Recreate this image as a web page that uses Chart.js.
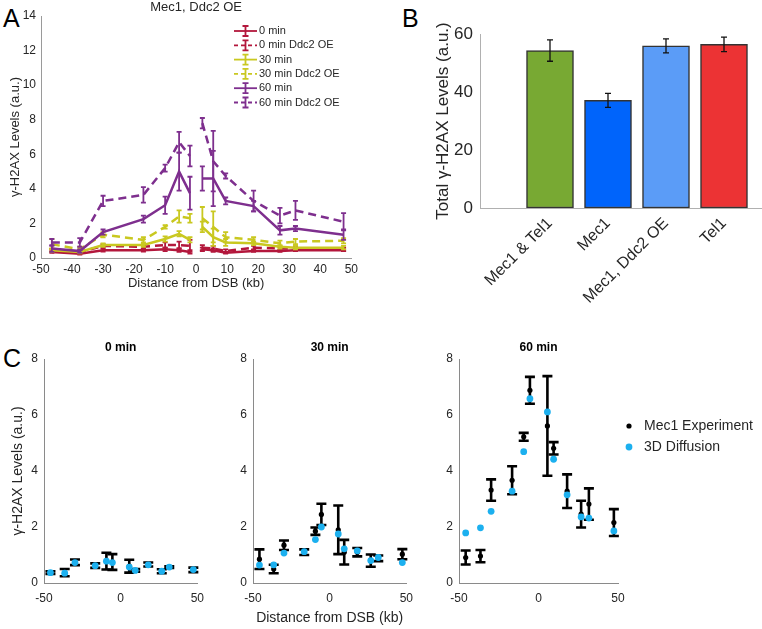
<!DOCTYPE html>
<html lang="en">
<head>
<meta charset="UTF-8">
<title>γ-H2AX spreading around a DSB</title>
<script src="https://cdn.jsdelivr.net/npm/chart.js@4"></script>
<style>
  body { margin: 0; width: 762px; height: 629px; overflow: hidden; background: #fff; position: relative;
         font-family: "Liberation Sans", Arial, sans-serif; }
  canvas { position: absolute; }
  .letter { position: absolute; font-size: 25px; line-height: 1; color: #000; }
</style>
</head>
<body>
<div class="letter" style="left:3px;top:6px">A</div>
<div class="letter" style="left:402px;top:6px">B</div>
<div class="letter" style="left:3px;top:346px">C</div>

<canvas id="chartA" width="362" height="300" style="left:0;top:0"></canvas>
<canvas id="chartB" width="380" height="320" style="left:400px;top:0"></canvas>
<canvas id="chartC0" width="212" height="299" style="left:0;top:330px"></canvas>
<canvas id="chartC30" width="212" height="299" style="left:209px;top:330px"></canvas>
<canvas id="chartC60" width="347" height="299" style="left:415px;top:330px"></canvas>

<script>
// ---- panel A: gamma-H2AX profiles (Mec1 vs Mec1 + Ddc2 OE)
const distA = [-46.5, -37.5, -30, -17, -10, -5.5, -2, 2, 5.5, 9.5, 18.5, 27, 32, 47.5];
const min0 = [0.35, 0.25, 0.45, 0.45, 0.5, 0.45, 0.35, 0.5, 0.45, 0.3, 0.4, 0.4, 0.45, 0.45];
const min0Err = [0.05, 0.05, 0.08, 0.08, 0.1, 0.1, 0.1, 0.1, 0.1, 0.05, 0.05, 0.05, 0.05, 0.05];
const min0OE = [0.45, 0.35, 0.7, 0.65, 0.75, 0.75, 0.7, 0.6, 0.55, 0.4, 0.6, 0.55, 0.55, 0.5];
const min0OEErr = [0.08, 0.08, 0.1, 0.1, 0.15, 0.2, 0.35, 0.15, 0.15, 0.1, 0.1, 0.1, 0.1, 0.1];
const min30 = [0.45, 0.35, 0.75, 0.75, 1.1, 1.4, 1.05, 1.8, 1.2, 0.9, 0.85, 0.65, 0.6, 0.6];
const min30Err = [0.1, 0.08, 0.1, 0.1, 0.15, 0.15, 0.15, 0.3, 0.5, 0.2, 0.1, 0.1, 0.1, 0.1];
const min30OE = [0.8, 0.5, 1.35, 1.05, 1.8, 2.4, 2.3, 2.3, 1.8, 1.2, 1.05, 0.85, 0.95, 1.0];
const min30OEErr = [0.3, 0.15, 0.15, 0.15, 0.1, 0.35, 0.25, 0.65, 0.9, 0.3, 0.15, 0.15, 0.15, 0.15];
const min60 = [0.55, 0.4, 1.5, 2.25, 3.05, 5.0, 3.75, 4.6, 4.6, 3.3, 3.0, 1.6, 1.7, 1.35];
const min60Err = [0.2, 0.1, 0.15, 0.2, 0.5, 1.1, 0.95, 0.7, 1.6, 0.2, 0.3, 0.25, 0.15, 0.3];
const min60OE = [0.9, 0.9, 3.3, 3.65, 5.2, 6.7, 5.9, 7.8, 5.6, 4.75, 3.3, 2.45, 2.75, 2.1];
const min60OEErr = [0.2, 0.25, 0.3, 0.45, 0.2, 0.6, 0.6, 0.3, 1.75, 0.15, 0.6, 0.45, 0.55, 0.5];

// ---- panel B: total levels per strain
const strains = ['Mec1 & Tel1', 'Mec1', 'Mec1, Ddc2 OE', 'Tel1'];
const totals = [54.3, 37.1, 55.9, 56.4];
const totalsErr = [3.7, 2.4, 2.4, 2.5];
const strainColors = ['#78a933', '#0064fb', '#5b9cf7', '#ec3334'];

// ---- panel C: experiment vs 3D diffusion model
const distC = [-45.8, -36.5, -29.8, -16.6, -9.3, -5.4, 5.6, 9.5, 18, 26.8, 31.7, 47.4];
const exp0 = [0.37, 0.37, 0.74, 0.62, 0.78, 0.75, 0.6, 0.45, 0.66, 0.42, 0.57, 0.47];
const exp0Err = [0.05, 0.13, 0.1, 0.08, 0.3, 0.28, 0.23, 0.05, 0.07, 0.07, 0.03, 0.08];
const sim0 = [0.37, 0.35, 0.73, 0.62, 0.78, 0.73, 0.57, 0.45, 0.65, 0.42, 0.57, 0.48];
const exp30 = [0.85, 0.5, 1.35, 1.1, 1.85, 2.45, 1.9, 1.1, 1.1, 0.8, 0.88, 1.03];
const exp30Err = [0.35, 0.15, 0.17, 0.1, 0.13, 0.38, 0.87, 0.44, 0.15, 0.22, 0.1, 0.18];
const sim30 = [0.64, 0.65, 1.07, 1.12, 1.55, 2.0, 1.75, 1.22, 1.15, 0.8, 0.91, 0.73];
const exp60 = [0.91, 0.96, 3.32, 3.67, 5.22, 6.88, 5.61, 4.81, 3.28, 2.46, 2.82, 2.16];
const exp60Err = [0.25, 0.22, 0.38, 0.5, 0.14, 0.48, 1.78, 0.22, 0.6, 0.48, 0.56, 0.48];
const sim60 = [1.79, 1.97, 2.56, 3.28, 4.69, 6.58, 6.11, 4.42, 3.15, 2.36, 2.32, 1.86];

const FONT = '"Liberation Sans", Arial, sans-serif';
const TEXT = '#262626';
Chart.defaults.font.family = FONT;
Chart.defaults.color = TEXT;

const pts = (xs, ys) => xs.map((x, i) => ({ x: x, y: ys[i] }));

// vertical error bars, drawn right after their own dataset
const errorBars = {
  id: 'errorBars',
  afterDatasetDraw(chart, args) {
    const ds = chart.data.datasets[args.index];
    if (!ds.yErr) return;
    const ctx = chart.ctx, ys = chart.scales.y;
    const cap = ds.errCap || 3;
    ctx.save();
    ctx.strokeStyle = ds.errColor || ds.borderColor;
    ctx.lineWidth = ds.errWidth || 1.5;
    ctx.setLineDash([]);
    args.meta.data.forEach((el, i) => {
      const v = ds.data[i].y, e = ds.yErr[i];
      const top = ys.getPixelForValue(v + e), bot = ys.getPixelForValue(v - e);
      ctx.beginPath();
      ctx.moveTo(el.x, top); ctx.lineTo(el.x, bot);
      ctx.moveTo(el.x - cap, top); ctx.lineTo(el.x + cap, top);
      ctx.moveTo(el.x - cap, bot); ctx.lineTo(el.x + cap, bot);
      ctx.stroke();
    });
    ctx.restore();
  }
};

// small legend placed freely on the canvas
const sideLegend = {
  id: 'sideLegend',
  afterDraw(chart, args, o) {
    if (!o || !o.show) return;
    const ctx = chart.ctx;
    ctx.save();
    ctx.font = o.size + 'px ' + FONT;
    ctx.textBaseline = 'middle';
    chart.data.datasets.forEach((ds, i) => {
      const y = o.y + i * o.step;
      if (o.kind === 'line') {
        const cx = o.x + o.len / 2;
        ctx.strokeStyle = ds.borderColor;
        ctx.lineWidth = 1.8;
        ctx.setLineDash(ds.borderDash ? [4, 3] : []);
        ctx.beginPath(); ctx.moveTo(o.x, y); ctx.lineTo(o.x + o.len, y); ctx.stroke();
        ctx.setLineDash([]);
        ctx.beginPath();
        ctx.moveTo(cx, y - 5); ctx.lineTo(cx, y + 5);
        ctx.moveTo(cx - 3, y - 5); ctx.lineTo(cx + 3, y - 5);
        ctx.moveTo(cx - 3, y + 5); ctx.lineTo(cx + 3, y + 5);
        ctx.stroke();
      } else {
        ctx.fillStyle = ds.backgroundColor;
        ctx.beginPath(); ctx.arc(o.x, y, ds.pointRadius, 0, Math.PI * 2); ctx.fill();
      }
      ctx.fillStyle = TEXT;
      ctx.fillText(ds.label, o.x + o.len + o.gap, y);
    });
    ctx.restore();
  }
};

// ---------- panel A
const seriesA = [
  ['0 min', min0, min0Err, '#b3173c', false],
  ['0 min Ddc2 OE', min0OE, min0OEErr, '#b3173c', true],
  ['30 min', min30, min30Err, '#c9c820', false],
  ['30 min Ddc2 OE', min30OE, min30OEErr, '#c9c820', true],
  ['60 min', min60, min60Err, '#7e2f8e', false],
  ['60 min Ddc2 OE', min60OE, min60OEErr, '#7e2f8e', true]
];
new Chart(document.getElementById('chartA'), {
  type: 'line',
  data: {
    datasets: seriesA.map((s, i) => ({
      label: s[0],
      data: pts(distA, s[1]),
      yErr: s[2],
      borderColor: s[3],
      borderWidth: 2.5,
      borderDash: s[4] ? [8, 5] : undefined,
      errWidth: 1.8,
      errCap: 2.5,
      pointRadius: 0,
      tension: 0,
      order: 6 - i,
      // no line across the break itself
      segment: { borderColor: c => (c.p0.parsed.x < 0 && c.p1.parsed.x > 0) ? 'rgba(0,0,0,0)' : undefined }
    }))
  },
  options: {
    responsive: false,
    animation: false,
    layout: { padding: { right: 10 } },
    plugins: {
      legend: { display: false },
      tooltip: { enabled: false },
      title: { display: true, text: 'Mec1, Ddc2 OE', fullSize: false, color: TEXT,
               font: { size: 13, weight: 'normal' }, padding: { top: 0, bottom: 0.4 } },
      sideLegend: { show: true, kind: 'line', x: 234, y: 31, step: 14.3, len: 23, gap: 2, size: 11 }
    },
    scales: {
      x: {
        type: 'linear', min: -50, max: 50,
        ticks: { stepSize: 10, font: { size: 12 }, padding: 4 },
        grid: { display: false, drawTicks: false },
        border: { color: '#9a9a9a' },
        title: { display: true, text: 'Distance from DSB (kb)', font: { size: 13 }, padding: { top: 0, bottom: 9 } },
        afterFit: s => { s.height = 42; }
      },
      y: {
        min: 0, max: 14,
        ticks: { stepSize: 2, font: { size: 12 }, padding: 5 },
        grid: { display: false, drawTicks: false },
        border: { color: '#9a9a9a' },
        title: { display: true, text: 'γ-H2AX Levels (a.u.)', font: { size: 13 }, padding: { top: 8, bottom: 0 } },
        afterFit: s => { s.width = 41; }
      }
    }
  },
  plugins: [errorBars, sideLegend]
});

// ---------- panel B
new Chart(document.getElementById('chartB'), {
  type: 'bar',
  data: {
    datasets: [{
      label: 'Total',
      data: totals.map((v, i) => ({ x: i + 1, y: v })),
      yErr: totalsErr,
      errColor: '#111',
      errWidth: 1.3,
      errCap: 3,
      backgroundColor: strainColors,
      borderColor: '#333',
      borderWidth: 1.5,
      borderSkipped: false,
      barThickness: 47
    }]
  },
  options: {
    responsive: false,
    animation: false,
    layout: { padding: { top: 34, right: 0 } },
    plugins: { legend: { display: false }, tooltip: { enabled: false } },
    scales: {
      x: {
        type: 'linear', offset: false, min: -12 / 58, max: -12 / 58 + 300 / 58,
        ticks: {
          stepSize: 1, autoSkip: false, minRotation: 45, maxRotation: 45, font: { size: 16 }, padding: 6,
          callback: v => (Number.isInteger(v) && v >= 1 && v <= strains.length) ? strains[v - 1] : ''
        },
        grid: { display: false, drawTicks: false, offset: false },
        border: { color: '#b0b0b0' },
        afterFit: s => { s.height = 112; s.paddingLeft = 0; s.paddingRight = 0; }
      },
      y: {
        min: 0, max: 60,
        ticks: { stepSize: 20, font: { size: 17 }, padding: 7 },
        grid: { display: false, drawTicks: false },
        border: { color: '#b0b0b0' },
        title: { display: true, text: 'Total γ-H2AX Levels (a.u.)', font: { size: 17 }, padding: { top: 33, bottom: 0 } },
        afterFit: s => { s.width = 80; }
      }
    }
  },
  plugins: [errorBars]
});

// ---------- panel C
function panelC(id, title, exp, expErr, sim, extra) {
  const x = {
    type: 'linear', min: -50, max: 50,
    ticks: { stepSize: 50, font: { size: 12 }, padding: 8 },
    grid: { display: false, drawTicks: false },
    border: { color: '#8a8a8a' },
    title: { display: !!extra.xTitle, text: 'Distance from DSB (kb)', font: { size: 14 }, padding: { top: 0, bottom: 2.6 } },
    afterFit: s => { s.height = 46; }
  };
  const y = {
    min: 0, max: 8,
    ticks: { stepSize: 2, font: { size: 12 }, padding: 6 },
    grid: { display: false, drawTicks: false },
    border: { color: '#8a8a8a' },
    title: { display: !!extra.yTitle, text: 'γ-H2AX Levels (a.u.)', font: { size: 14 }, padding: { top: 9.6, bottom: 0 } },
    afterFit: s => { s.width = 44; }
  };
  return new Chart(document.getElementById(id), {
    type: 'scatter',
    data: {
      datasets: [
        { label: 'Mec1 Experiment', data: pts(distC, exp), yErr: expErr, errColor: '#000', errWidth: 2.6, errCap: 5,
          backgroundColor: '#000', borderColor: '#000', pointRadius: 2.6, pointBorderWidth: 0, order: 2 },
        { label: '3D Diffusion', data: pts(distC, sim), backgroundColor: '#1cb0ef', borderColor: '#1cb0ef',
          pointRadius: 3.4, pointBorderWidth: 0, order: 1 }
      ]
    },
    options: {
      responsive: false,
      animation: false,
      layout: { padding: { right: extra.right } },
      plugins: {
        legend: { display: false },
        tooltip: { enabled: false },
        title: { display: true, text: title, fullSize: false, color: '#000',
                 font: { size: 12, weight: 'bold' }, padding: { top: 10.8, bottom: 3.8 } },
        sideLegend: extra.legend || { show: false }
      },
      scales: { x: x, y: y }
    },
    plugins: [errorBars, sideLegend]
  });
}

panelC('chartC0', '0 min', exp0, exp0Err, sim0, { right: 10, yTitle: true });
panelC('chartC30', '30 min', exp30, exp30Err, sim30, { right: 10, xTitle: true });
panelC('chartC60', '60 min', exp60, exp60Err, sim60, {
  right: 144,
  legend: { show: true, kind: 'point', x: 214, y: 96, step: 21, len: 0, gap: 15, size: 14 }
});
</script>
</body>
</html>
